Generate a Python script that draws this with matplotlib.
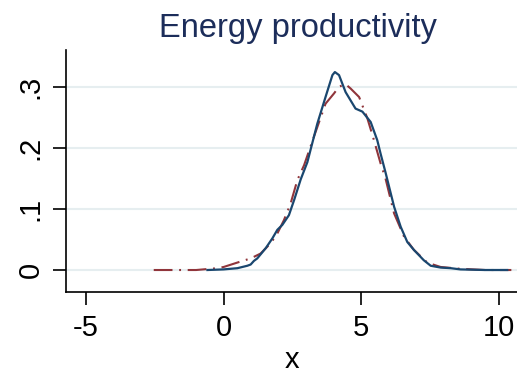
import matplotlib
matplotlib.use("Agg")
import matplotlib.pyplot as plt

# kernel density of the series (solid) and the normal density overlay (dash-dot)
kde_x = [-0.59, 0.0, 0.5, 0.86, 0.98, 1.10, 1.22, 1.53, 1.77, 1.95, 2.13, 2.37,
         2.56, 2.80, 3.04, 3.40, 3.70, 3.95, 4.04, 4.19, 4.43, 4.79, 5.04, 5.34,
         5.58, 5.70, 5.88, 6.19, 6.43, 6.67, 6.91, 7.27, 7.52, 7.88, 8.25, 8.60,
         9.50, 10.30]
kde_y = [0.0, 0.001, 0.003, 0.007, 0.009, 0.015, 0.019, 0.036, 0.052, 0.066,
         0.074, 0.090, 0.115, 0.149, 0.177, 0.240, 0.284, 0.320, 0.325, 0.320,
         0.292, 0.265, 0.260, 0.243, 0.213, 0.191, 0.160, 0.104, 0.071, 0.046,
         0.033, 0.016, 0.007, 0.004, 0.003, 0.001, 0.0, 0.0]

norm_x = [-2.54, -1.0, -0.23, 0.0, 0.62, 0.98, 1.34, 1.71, 1.95, 2.19, 2.43,
          2.68, 2.92, 3.28, 3.70, 4.01, 4.19, 4.43, 4.61, 4.92, 5.22, 5.46,
          5.70, 5.88, 6.19, 6.55, 6.91, 7.40, 7.88, 8.60, 9.50, 10.45]
norm_y = [0.0, 0.0, 0.003, 0.005, 0.014, 0.019, 0.027, 0.044, 0.060, 0.082,
          0.109, 0.148, 0.172, 0.219, 0.273, 0.290, 0.301, 0.305, 0.298, 0.284,
          0.249, 0.213, 0.175, 0.150, 0.093, 0.055, 0.033, 0.012, 0.005, 0.002,
          0.0, 0.0]

xticks = [-5, 0, 5, 10]
yticks = [0, 0.1, 0.2, 0.3]
ytick_labels = ["0", ".1", ".2", ".3"]

plt.rcParams["font.family"] = ["Liberation Sans", "DejaVu Sans"]

fig = plt.figure(figsize=(5.17, 3.78), dpi=100)
ax = fig.add_axes([66 / 517, 1 - 292 / 378, 1 - 66 / 517, (292 - 50) / 378])

for y in yticks:
    ax.axhline(y, color="#e6eef0", lw=1.5, zorder=0)

ax.plot(norm_x, norm_y, color="#90353b", lw=1.5, dashes=(9, 3.2, 0.9, 3.2),
        zorder=2)
ax.plot(kde_x, kde_y, color="#1a476f", lw=1.6, zorder=3)

ax.set_xlim(-5.727, 10.655)
ax.set_ylim(-0.0361, 0.3612)
ax.set_xticks(xticks)
ax.set_xticklabels([str(t) for t in xticks])
ax.set_yticks(yticks)
ax.set_yticklabels(ytick_labels, rotation=90, va="center")

for s in ("top", "right"):
    ax.spines[s].set_visible(False)
for s in ("left", "bottom"):
    ax.spines[s].set_linewidth(1.2)
ax.tick_params(axis="both", length=9.5, width=1.2, labelsize=21, pad=6)

ax.set_xlabel("x", fontsize=21, labelpad=3)
fig.text(298 / 517, 1 - 37 / 378, "Energy productivity", ha="center",
         va="baseline", fontsize=23.5, color="#1c2d5a")

fig.savefig("out.png", dpi=100, facecolor="white")
